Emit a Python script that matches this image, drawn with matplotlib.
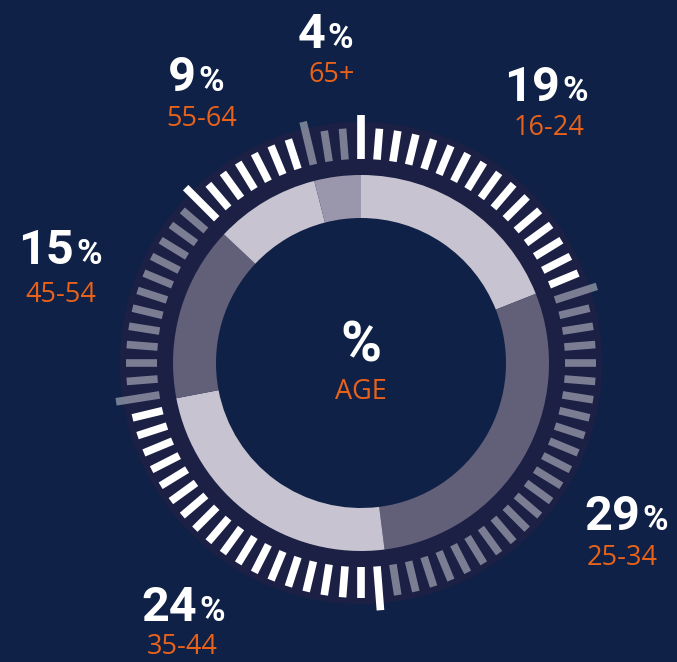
import numpy as np
import matplotlib
matplotlib.use("Agg")
import matplotlib.pyplot as plt
from matplotlib.patches import Wedge

# data
age_groups = ["16-24", "25-34", "35-44", "45-54", "55-64", "65+"]
shares = [19, 29, 24, 15, 9, 4]

# label anchors in pixel coords (x split between number and %, baseline y)
label_pos = {
    "16-24": (560, 101, 549, 135),
    "25-34": (640, 530, 622, 565),
    "35-44": (197, 621, 182, 654),
    "45-54": (74, 264, 61, 302),
    "55-64": (196, 91, 202, 126),
    "65+": (325, 48, 332, 82),
}

BG = "#0f2146"
BAND = "#1c2045"
LIGHT = "#c7c3d1"
DARK = "#625f79"
MID = "#9a97ad"
ORANGE = "#e8621a"
seg_colors = [LIGHT, DARK, LIGHT, DARK, LIGHT, MID]
tick_white = [True, False, True, False, True, False]

W, H = 677, 662
CX, CY = 361, H - 363
R_OUT, R_IN = 188, 145
N_TICKS = 80

fig = plt.figure(figsize=(W / 100, H / 100), dpi=100, facecolor=BG)
ax = fig.add_axes([0, 0, 1, 1])
ax.set_facecolor(BG)

# dark band behind the ticks
ax.add_patch(Wedge((CX, CY), 241, 0, 360, width=241 - R_OUT + 2, color=BAND, lw=0))

# donut
ax.pie(shares, radius=R_OUT, center=(CX, CY), startangle=90, counterclock=False,
       colors=seg_colors, wedgeprops=dict(width=R_OUT - R_IN, linewidth=0))

# tick ring
bounds = np.cumsum([0] + shares) * 3.6
seen = set()
for k in range(N_TICKS):
    ang = k * 360 / N_TICKS
    seg = np.searchsorted(bounds, ang, side="right") - 1
    long_tick = seg not in seen
    seen.add(seg)
    r0, r1 = 204, (248 if long_tick else 235)
    th = np.deg2rad(90 - ang)
    xs = [CX + r0 * np.cos(th), CX + r1 * np.cos(th)]
    ys = [CY + r0 * np.sin(th), CY + r1 * np.sin(th)]
    if tick_white[seg]:
        ax.plot(xs, ys, color="white", lw=5.5, solid_capstyle="butt")
    else:
        ax.plot(xs, ys, color="white", alpha=0.42, lw=5.5, solid_capstyle="butt")

# labels
for grp, val in zip(age_groups, shares):
    xs, yb, xl, ylb = label_pos[grp]
    ax.text(xs, H - yb, str(val), ha="right", va="baseline", color="white",
            fontsize=35, fontweight="bold", family="Roboto")
    ax.text(xs + 2, H - yb, "%", ha="left", va="baseline", color="white",
            fontsize=25, fontweight="bold", family="Roboto")
    ax.text(xl, H - ylb, grp, ha="center", va="baseline", color=ORANGE,
            fontsize=19.5, family="Open Sans")

ax.text(CX, H - 362, "%", ha="center", va="baseline", color="white",
        fontsize=40, fontweight="bold", family="Roboto")
ax.text(CX, H - 399, "AGE", ha="center", va="baseline", color=ORANGE,
        fontsize=19.5, family="Open Sans")

ax.set_xlim(0, W)
ax.set_ylim(0, H)
ax.set_aspect("equal")
ax.axis("off")

fig.savefig("out.png", dpi=100, facecolor=BG)
